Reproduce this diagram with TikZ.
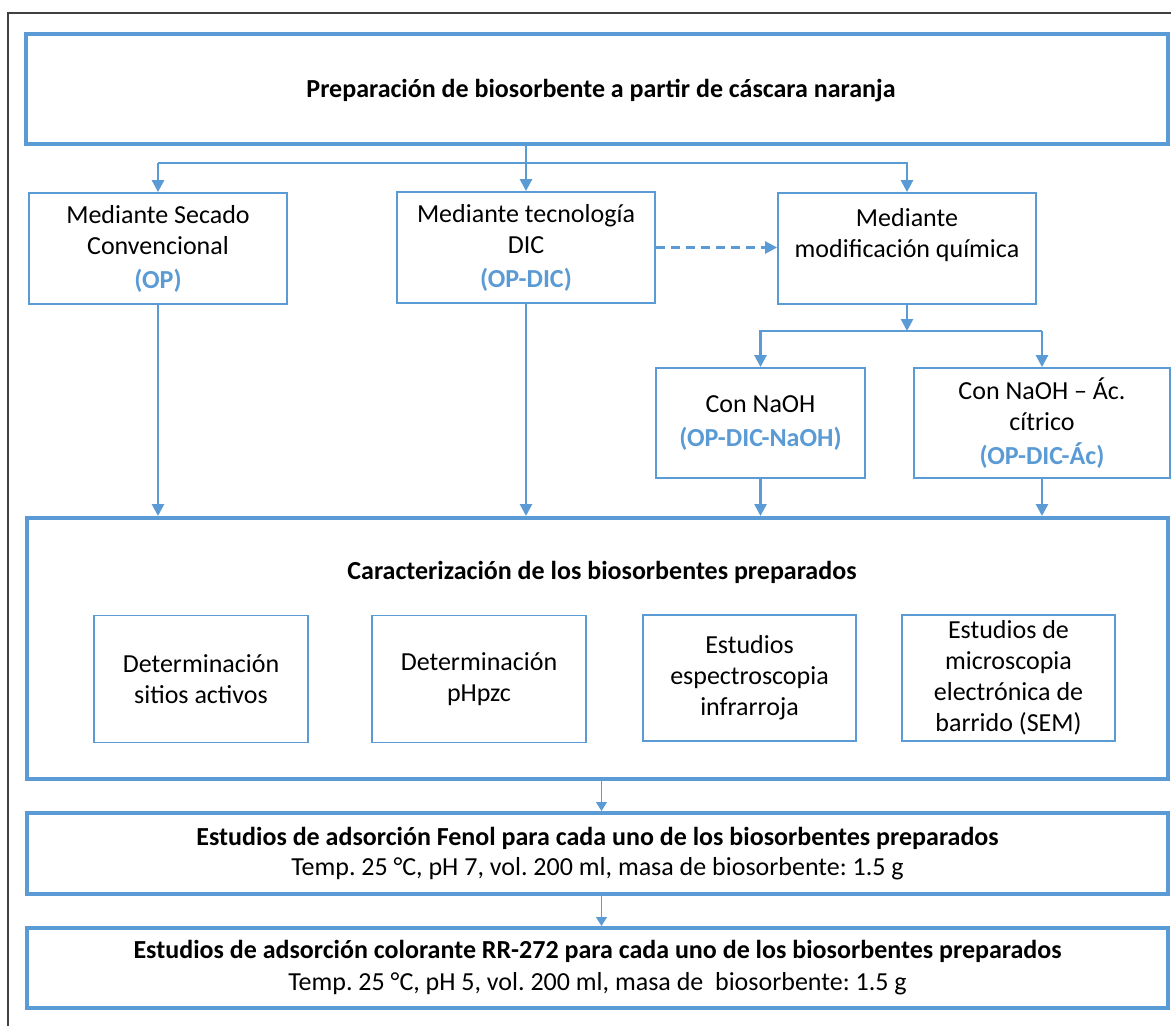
\documentclass[tikz,border=0pt]{standalone}
\usepackage{fontspec}
\setmainfont{Carlito}
\usetikzlibrary{arrows.meta}
\definecolor{cAzul}{HTML}{5B9BD5}
\definecolor{cMarco}{HTML}{404040}
\newcommand{\rotulo}[1]{\textcolor{cAzul}{\textbf{#1}}}
\frenchspacing

\begin{document}
\begin{tikzpicture}[
    x=1pt, y=-1pt, font=\fontsize{26}{31}\selectfont,
    caja/.style={draw=cAzul, line width=1.8pt, align=center, inner sep=0pt},
    cajaG/.style={draw=cAzul, line width=4pt, align=center, inner sep=0pt},
    flecha/.style={-{Triangle[length=12pt, width=12pt]}, line width=2.6pt, cAzul},
    flechaF/.style={-{Triangle[length=9pt, width=11pt]}, line width=1.2pt, cAzul},
    marco/.style={draw=cMarco, line width=1.5pt},
    tit/.style={font=\fontsize{26}{31}\selectfont\bfseries, inner sep=0pt},
]
\useasboundingbox (0,0) rectangle (1171,1026);

% ===================== Marco =====================
\draw[marco] (8,1026) -- (8,13) -- (1171,13);

% ===================== Preparación =====================
\node[cajaG, minimum width=1142, minimum height=110] (prep) at (597,89) {};
\node[tit] (preptit) at (601,91)
      {Preparación de biosorbente a partir de cáscara naranja};

\node[caja, minimum width=258, minimum height=111] (op) at (158,248.5)
      {Mediante Secado\\Convencional\\[3pt]\rotulo{(OP)}};
\node[caja, minimum width=258, minimum height=111] (dic) at (526,247.5)
      {Mediante tecnología\\DIC\\[3pt]\rotulo{(OP-DIC)}};
\node[caja, minimum width=258, minimum height=111] (quim) at (907,248.5)
      {Mediante\\modificación química\\\mbox{}};

\node[caja, minimum width=209, minimum height=110] (naoh) at (760.5,423)
      {Con NaOH\\[3pt]\rotulo{(OP-DIC-NaOH)}};
\node[caja, minimum width=256, minimum height=110] (ac) at (1042,423)
      {Con NaOH -- Ác.\\cítrico\\[3pt]\rotulo{(OP-DIC-Ác)}};

% ===================== Ramas =====================
\coordinate (ramaA) at (0,163);
\coordinate (ramaB) at (0,331);

\draw[flecha] (prep.south -| dic.north) -- (dic.north);
\draw[flecha] (ramaA -| op.north) -- (op.north);
\draw[flecha] (ramaA -| op.north) -- (ramaA -| quim.north) -- (quim.north);
\draw[flecha, dashed, dash pattern=on 9pt off 6pt] (dic.east) -- (dic.east -| quim.west);

\draw[flecha] (quim.south) -- (ramaB -| quim.south);
\draw[flecha] (ramaB -| ac.north) -- (ramaB -| naoh.north) -- (naoh.north);
\draw[flecha] (ramaB -| ac.north) -- (ac.north);

% ===================== Caracterización =====================
\node[cajaG, minimum width=1141, minimum height=261] (caract) at (597.5,648.5) {};
\node[tit] (caracttit) at (602,572) {Caracterización de los biosorbentes preparados};

\node[caja, minimum width=214, minimum height=127] (sitios) at (201,679)
      {Determinación\\sitios activos};
\node[caja, minimum width=214, minimum height=127] (phpzc) at (479,679)
      {Determinación\\pHpzc};
\node[caja, minimum width=213, minimum height=126] (ir) at (749.5,678)
      {Estudios\\espectroscopia\\infrarroja};
\node[caja, minimum width=213, minimum height=126] (sem) at (1008.5,678)
      {Estudios de\\microscopia\\electrónica de\\barrido (SEM)};

\foreach \n in {op, dic, naoh, ac} {
    \draw[flecha] (\n.south) -- (\n.south |- caract.north);
}

% ===================== Adsorción =====================
\node[cajaG, minimum width=1141, minimum height=81, font=\fontsize{26}{30}\selectfont]
      (fenol) at (597.5,853.5)
      {\textbf{Estudios de adsorción Fenol para cada uno de los biosorbentes preparados}\\
       Temp. 25 °C, pH 7, vol. 200 ml, masa de biosorbente: 1.5 g};
\node[cajaG, minimum width=1141, minimum height=80, font=\fontsize{26}{32}\selectfont]
      (rr) at (597.5,968)
      {\textbf{Estudios de adsorción colorante RR-272 para cada uno de los biosorbentes preparados}\\
       Temp. 25 °C, pH 5, vol. 200 ml, masa de \ biosorbente: 1.5 g};

\draw[flechaF] ([xshift=4pt]caract.south) -- ([xshift=4pt]fenol.north);
\draw[flechaF] ([xshift=4pt]fenol.south) -- ([xshift=4pt]rr.north);

\end{tikzpicture}
\end{document}
